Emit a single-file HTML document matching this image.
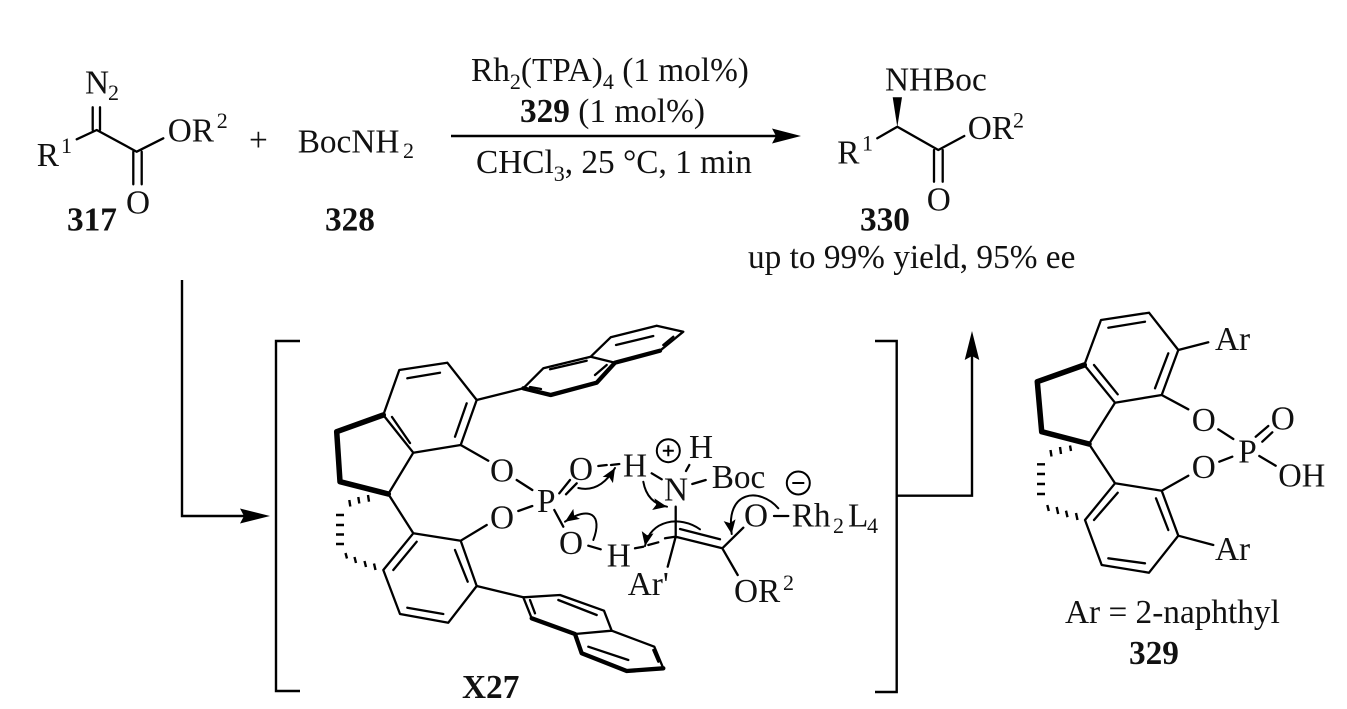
<!DOCTYPE html>
<html><head><meta charset="utf-8"><style>
html,body{margin:0;padding:0;background:#fff;width:1347px;height:709px;overflow:hidden}
svg{display:block}
text{font-family:"Liberation Serif",serif;font-size:33.3px;fill:#111}
.b{font-weight:bold}
.s{font-size:22px}
.l{stroke:#000;stroke-width:2.3;fill:none;stroke-linecap:round;stroke-linejoin:round}
.t{stroke:#000;stroke-width:5.5;fill:none;stroke-linecap:round;stroke-linejoin:round}
.h{stroke:#000;stroke-width:2.4;fill:none}
.c{stroke:#000;stroke-width:2;fill:none;stroke-linecap:round}
</style></head><body>
<svg width="1347" height="709" viewBox="0 0 1347 709" xmlns="http://www.w3.org/2000/svg">
<defs><marker id="m" markerUnits="userSpaceOnUse" markerWidth="16" markerHeight="14" refX="14" refY="6" orient="auto"><path d="M0 0L14 6L0 12L3 6Z" fill="#000"/></marker></defs>

<!-- Top reaction: 317 -->
<path class="l" d="M76.7 139.3L96.7 130L136.7 151.7L163.3 138.3M92.7 107.3V130M100 107.3V130M133.3 151.7V184.3M141.7 151.7V184.3"/>
<text x="85" y="93.3">N</text><text class="s" x="108" y="100">2</text>
<text x="36.7" y="166">R</text><text class="s" x="61" y="153">1</text>
<text x="167.7" y="141.7">OR</text><text class="s" x="216.7" y="128">2</text>
<text x="126" y="213.3">O</text>
<text class="b" x="67" y="230.7">317</text>
<text x="249" y="151">+</text>
<text x="297.7" y="152.7">BocNH</text><text class="s" x="403" y="158">2</text>
<text class="b" x="325" y="230.7">328</text>

<!-- conditions -->
<text x="471" y="81">Rh<tspan class="s" dy="8">2</tspan><tspan dy="-8">(TPA)</tspan><tspan class="s" dy="8">4</tspan><tspan dy="-8"> (1 mol%)</tspan></text>
<text x="520" y="122"><tspan class="b">329</tspan> (1 mol%)</text>
<text x="476" y="173">CHCl<tspan class="s" dy="8">3</tspan><tspan dy="-8">, 25 °C, 1 min</tspan></text>
<path class="h" d="M451 136H778"/>
<path d="M801 136L772 128.5L776 136L772 143.5Z" fill="#000"/>

<!-- 330 -->
<path class="l" d="M877.3 138.3L897.3 126.7L938.3 150L964.3 136M934 150V181.7M942.7 150V181.7"/>
<path d="M897.3 127L892.7 97.3H902Z" fill="#000"/>
<text x="885" y="90.7">NHBoc</text>
<text x="837.3" y="163.3">R</text><text class="s" x="862" y="150.7">1</text>
<text x="967.7" y="139">OR</text><text class="s" x="1013" y="127.3">2</text>
<text x="926.7" y="210.7">O</text>
<text class="b" x="860" y="230.7">330</text>
<text x="748" y="268">up to 99% yield, 95% ee</text>

<!-- flow arrows and brackets -->
<path class="h" d="M182 280V516H245"/>
<path d="M270 516L240 508.5L244 516L240 523.5Z" fill="#000"/>
<path class="h" d="M300 341H276V691H300M875 341H896.7V692H875M896.7 495.7H972V352"/>
<path d="M972 331L964.7 360L972 356L979.3 360Z" fill="#000"/>

<!-- X27 biaryl -->
<path class="l" d="M399.3 370L447.3 362.7L476.7 400L460.7 445L413.3 452.7L383.3 415L399.3 370M407.3 378.3L440 372.7M466.7 403.3L455 436.7M392 417L410 443M413.3 452.7L388.3 494L413.3 533.3L460.7 540.7L476.7 586L448.3 622.7L400 614L383.3 570L413.3 533.3M416.7 541.7L393.3 570M455 550L467.7 581.7M407.3 607.7L443.3 614"/>
<path class="t" d="M383.3 415L336.7 431.7L340 481.7L388.3 494"/>
<path class="h" d="M368 495l1 6.700M358.300 497l1 6.500M349.300 500l1 6.500M336 515h8M336 525h8M336 534.500h8M336 544h8M345.500 553l1.500 5.500M354.500 557l1.500 6M364.500 561l1.500 6M374 563.500l1.500 6.500"/>
<path class="l" d="M476.700 400L523.300 388.300M476.700 586L523.300 597.300"/>
<!-- top naphthyl -->
<path class="l" d="M523.300 388.300L543.300 368.300L590.700 356.700L615 362.700M590.700 356.700L610.700 337.300L656.700 325.700L683.300 331.700L660 350.700M550 369.300L586.700 360.700M595 375L606.700 365M530 387L541 389M616 345L653.300 336M663.300 345L673.300 336.700"/>
<path class="t" style="stroke-width:4.300" d="M523.300 388.300L550.700 395L596.700 382.700L615 362.700L660 350.700"/>
<!-- bottom naphthyl -->
<path class="l" d="M523.300 597.300L560 595L604 610.700L611.700 630.700L575 634M611.700 630.700L654.300 646.700L663.300 668.300M523.300 597.300L531.700 618.300M558.300 600L596.700 615M530 600L535 613.300M588.300 646.700L628.300 660M653.300 650L658.300 661.700"/>
<path class="t" style="stroke-width:4.300" d="M531.700 618.300L575 634L581.700 653.300L626.700 671L663.300 668.300"/>

<!-- X27 bonds -->
<path class="l" d="M460.700 445L488.300 460.700M460.700 540.700L486.700 525M516.700 480L532.300 490M518.300 511L532.300 506M559.300 493.300L570 480M566 494.300L576.700 483.300M554.300 510L563.300 526.700M598.300 466L606.700 465M611 465L619.300 464M651.700 473.300L661.700 479.300M686 471L689.300 465M692.300 484L705.700 480M675.700 506.700V536.700L722.300 548.300L743.300 527.700M680 529L720 539.300M722.300 548.300L737.700 575M675.700 536.700L667.700 566.700M774 516H788.300M588.300 545.700L600.700 549.300M635 548.300L643.300 546.700M648.300 545L658.300 542.300M665 538.300L675 536.700"/>

<!-- curved arrows -->
<path class="c" marker-end="url(#m)" d="M578.300 488Q600 493 615 468"/>
<path class="c" marker-end="url(#m)" d="M643.300 481.700Q647 503 667 506.700"/>
<path class="c" marker-end="url(#m)" d="M593.300 540C603 515 590 505 565 521.700"/>
<path class="c" marker-end="url(#m)" d="M700 529.300C680 515 650 520 645 546"/>
<path class="c" marker-end="url(#m)" d="M778.300 508.300C760 487 725 490 731.700 534"/>

<!-- X27 labels -->
<text x="490" y="481.700">O</text>
<text x="490" y="528.300">O</text>
<text x="537" y="512">P</text>
<text x="569" y="480">O</text>
<text x="623" y="476.700">H</text>
<text x="664" y="500.700">N</text>
<text x="689" y="458">H</text>
<text x="711.700" y="488">Boc</text>
<text x="559" y="554">O</text>
<text x="606.700" y="566.700">H</text>
<text x="627.700" y="595">Ar'</text>
<text x="744" y="526.700">O</text>
<text x="791.700" y="526.700">Rh</text><text class="s" x="833" y="533">2</text><text x="848" y="526.700">L</text><text class="s" x="867" y="533">4</text>
<text x="734" y="602">OR</text><text class="s" x="783" y="590">2</text>
<circle cx="668.300" cy="450.700" r="11.500" fill="none" stroke="#000" stroke-width="2"/>
<path class="h" style="stroke-width:2" d="M662.800 450.700h11M668.300 445.200v11"/>
<circle cx="798.300" cy="483" r="11.500" fill="none" stroke="#000" stroke-width="2"/>
<path class="h" style="stroke-width:2" d="M792.300 483h12"/>
<text class="b" x="462" y="698">X27</text>

<!-- 329 -->
<path class="l" d="M1101 320L1149 312.700L1178.300 350L1161.700 395L1115 402.700L1084.300 365L1101 320M1108.300 327.700L1145 321.700M1168.300 353.300L1155 388.300M1094 365L1117.700 394.300M1115 402.700L1089 444L1115 483.300L1161.700 490.700L1178.300 535.700L1149 572.700L1101.700 565L1085 520L1115 483.300M1117.700 492.700L1094 520M1156 498.300L1168.300 530M1108.300 558.300L1145 563.300M1178.300 350L1208.300 342.300M1178.300 535.700L1213.300 545M1161.700 395L1188.300 409.300M1161.700 490.700L1188.300 475.700M1218.300 429.300L1233.300 439M1219.300 461.700L1232.300 456.700M1255.700 436.700L1268.300 426M1262.300 441.700L1272.300 432.300M1259.300 456L1275.700 465.700"/>
<path class="t" d="M1084.300 365L1037.300 381.700L1041.700 431.700L1089 444"/>
<path class="h" d="M1070 445.500l1 5.500M1060 447l1 7M1050.500 450l1 6.500M1037 464.300h8M1037 474h8M1037 484h8M1037 494h8M1047.300 505l1.500 6M1056.700 507l1.500 7M1066 510.700l1.500 6.500M1076 513l1.500 7"/>
<text x="1215" y="350">Ar</text>
<text x="1215" y="560">Ar</text>
<text x="1191.700" y="431">O</text>
<text x="1191.700" y="478">O</text>
<text x="1238.300" y="462.700">P</text>
<text x="1270.700" y="429.300">O</text>
<text x="1278.300" y="486.700" textLength="47" lengthAdjust="spacingAndGlyphs">OH</text>
<text x="1065" y="623">Ar = 2-naphthyl</text>
<text class="b" x="1129" y="664">329</text>
</svg>
</body></html>
